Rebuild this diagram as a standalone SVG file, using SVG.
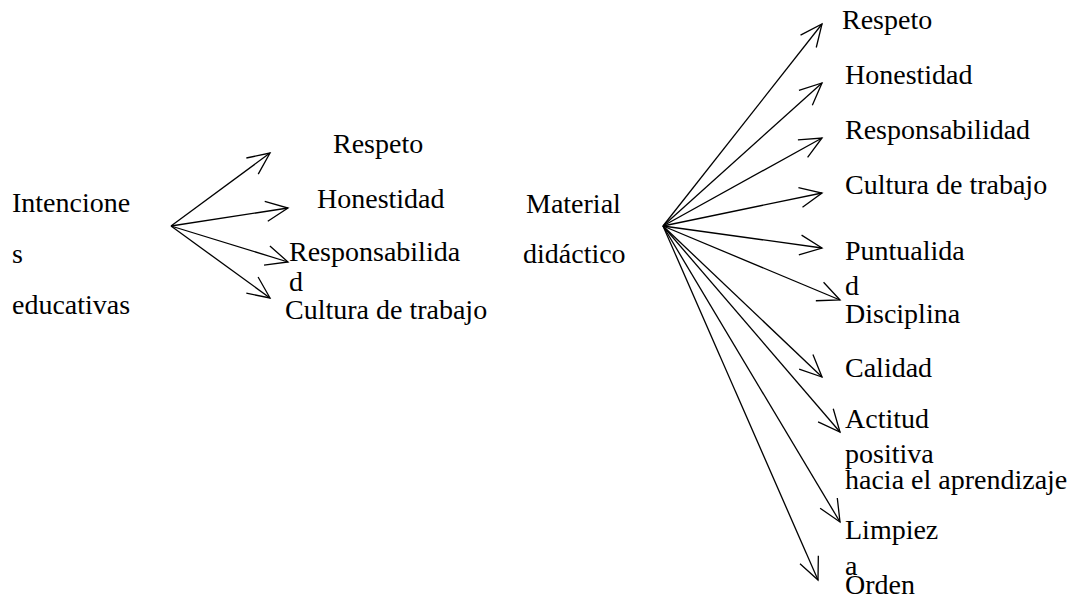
<svg xmlns="http://www.w3.org/2000/svg" width="1081" height="600" viewBox="0 0 1081 600" font-family="'Liberation Serif', Tinos, 'Times New Roman', 'DejaVu Serif', serif">
<style>
text{font-family:"Liberation Serif",Tinos,"Times New Roman","DejaVu Serif",serif;font-size:28px;fill:#000}
.c line{stroke:#000;stroke-width:1.3;fill:none;marker-end:url(#ah)}
</style>
<defs>
<marker id="ah" markerUnits="userSpaceOnUse" markerWidth="30" markerHeight="30" refX="0" refY="0" orient="auto" overflow="visible" viewBox="-26 -13 30 26">
<path d="M-22,-10 L0,0 L-22,10" fill="none" stroke="#000" stroke-width="1.3"/>
</marker>
</defs>
<rect width="1081" height="600" fill="#fff"/>
<g id="n-intenciones"><text x="12" y="212">Intencione</text><text x="12" y="263">s</text><text x="12" y="314">educativas</text></g>
<g id="n-l-respeto"><text x="333" y="153">Respeto</text></g>
<g id="n-l-honestidad"><text x="317" y="208">Honestidad</text></g>
<g id="n-l-responsabilidad"><text x="289" y="261">Responsabilida</text><text x="289" y="291">d</text></g>
<g id="n-l-cultura"><text x="285" y="319">Cultura de trabajo</text></g>
<g id="n-material"><text x="526" y="213">Material</text><text x="523" y="263">didáctico</text></g>
<g id="n-r-respeto"><text x="842" y="29">Respeto</text></g>
<g id="n-r-honestidad"><text x="845" y="84">Honestidad</text></g>
<g id="n-r-responsabilidad"><text x="845" y="139">Responsabilidad</text></g>
<g id="n-r-cultura"><text x="845" y="194">Cultura de trabajo</text></g>
<g id="n-r-puntualidad"><text x="845" y="260">Puntualida</text><text x="845" y="295">d</text></g>
<g id="n-r-disciplina"><text x="845" y="323">Disciplina</text></g>
<g id="n-r-calidad"><text x="845" y="377">Calidad</text></g>
<g id="n-r-actitud"><text x="845" y="428">Actitud</text><text x="845" y="463">positiva</text><text x="845" y="489">hacia el aprendizaje</text></g>
<g id="n-r-limpieza"><text x="845" y="539">Limpiez</text><text x="845" y="575">a</text></g>
<g id="n-r-orden"><text x="845" y="594">Orden</text></g>
<g class="c" id="connectors">
<line x1="171" y1="226" x2="270" y2="153"/>
<line x1="171" y1="226" x2="288" y2="208"/>
<line x1="171" y1="226" x2="288" y2="262"/>
<line x1="171" y1="226" x2="270" y2="298"/>
<line x1="663" y1="226" x2="822" y2="24"/>
<line x1="663" y1="226" x2="822" y2="83"/>
<line x1="663" y1="226" x2="822" y2="138"/>
<line x1="663" y1="226" x2="822" y2="193"/>
<line x1="663" y1="226" x2="822" y2="248"/>
<line x1="663" y1="226" x2="840" y2="300"/>
<line x1="663" y1="226" x2="822" y2="377"/>
<line x1="663" y1="226" x2="840" y2="432"/>
<line x1="663" y1="226" x2="840" y2="522"/>
<line x1="663" y1="226" x2="818" y2="580"/>
</g>
</svg>
